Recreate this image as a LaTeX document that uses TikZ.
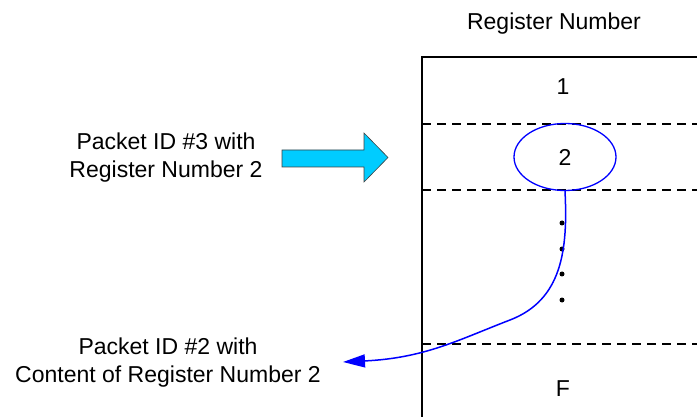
\documentclass[tikz,border=0pt]{standalone}
\usepackage{fontspec}
\setmainfont{Liberation Sans}
\usetikzlibrary{arrows.meta,shapes.geometric}
\definecolor{arrowcyan}{HTML}{00CCFF}
\definecolor{curveblue}{HTML}{0000FF}
\tikzset{
  lbl/.style={font=\fontsize{23}{28}\selectfont, align=center, inner sep=0pt},
  txt/.style={font=\fontsize{23}{28}\selectfont, inner sep=0pt, anchor=base},
  frame/.style={line width=1.2pt, black},
  sep/.style={line width=1.2pt, black, dash pattern=on 9pt off 6pt},
  regell/.style={ellipse, draw=curveblue, line width=1.3pt, minimum width=102pt, minimum height=67pt, inner sep=0pt, font=\fontsize{23}{28}\selectfont},
  bigarrow/.style={fill=arrowcyan, draw=black!75, line width=0.6pt},
  link/.style={curveblue, line width=1.5pt, -{Triangle[length=22pt,width=13pt]}},
  dot/.style={circle, fill=black, inner sep=0pt, minimum size=5pt}
}
\begin{document}
\begin{tikzpicture}[x=1pt,y=-1pt]
\useasboundingbox (0,0) rectangle (697,417);
% frame
\draw[frame] (697,57) -- (422,57) -- (422,420);
\draw[sep] (422,124) -- (697,124);
\draw[sep] (422,190) -- (697,190);
\draw[sep] (422,344) -- (697,344);
% texts
\node[txt] (title) at (554,30) {Register Number};
\node[txt] (r1) at (563,95) {1};
\node[txt] (rF) at (563,396) {F};
\node[regell] (e2) at (565,157) {2};
\node[lbl] (in) at (166,158) {Packet ID \#3 with\\Register Number 2};
\node[lbl] (out) at (168,363) {Packet ID \#2 with\\Content of Register Number 2};
% dots
\node[dot] (d1) at (562,223) {};
\node[dot] (d2) at (562,249) {};
\node[dot] (d3) at (562,274) {};
\node[dot] (d4) at (562,300) {};
% big arrow
\draw[bigarrow] (282,150) -- (364,150) -- (364,133) -- (388,157.5) -- (364,182) -- (364,167) -- (282,167) -- cycle;
% curve
\coordinate (tip) at (343,362);
\draw[link] (e2.south) .. controls (568,250) and (562,300) .. (510,320)
  .. controls (458,340) and (425,358) .. (tip);
\end{tikzpicture}
\end{document}
